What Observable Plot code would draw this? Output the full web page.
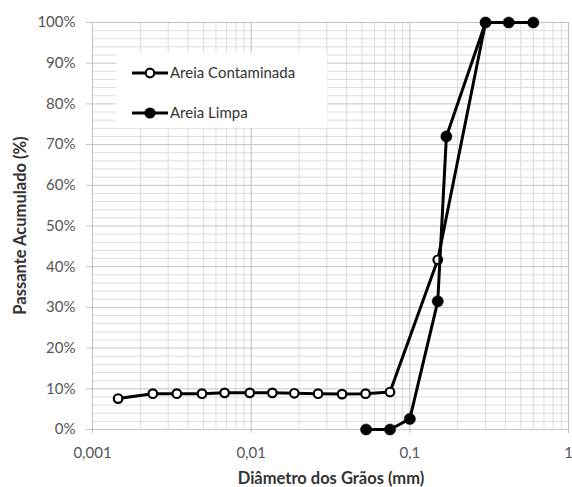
<!DOCTYPE html>
<html><head><meta charset="utf-8">
<script src="https://cdn.jsdelivr.net/npm/d3@7"></script>
<script src="https://cdn.jsdelivr.net/npm/@observablehq/plot@0.6"></script>
<style>
body{margin:0;background:#fff}
#chart svg{font-family:Lato,"Open Sans",sans-serif;background:#fff}
</style>
</head><body><div id="chart"></div>
<script>
// Data
const seriesNames = ["Areia Contaminada", "Areia Limpa"];
const contamDiam = [0.00145, 0.0024, 0.0034, 0.0049, 0.0068, 0.0098, 0.0136, 0.0187, 0.0264, 0.0374, 0.0526, 0.075, 0.15, 0.3];
const contamPass = [7.6, 8.8, 8.8, 8.8, 9.0, 9.0, 9.0, 8.9, 8.8, 8.7, 8.8, 9.2, 41.7, 100];
const limpaDiam = [0.053, 0.075, 0.1, 0.15, 0.17, 0.3, 0.42, 0.6];
const limpaPass = [0, 0, 2.6, 31.5, 72, 100, 100, 100];
const xTicks = [0.001, 0.01, 0.1, 1];
const xTickLabels = ["0,001", "0,01", "0,1", "1"];
const yTicks = [0, 10, 20, 30, 40, 50, 60, 70, 80, 90, 100];
const yTitle = "Passante Acumulado (%)";
const xTitle = "Diâmetro dos Grãos (mm)";

const contam = contamDiam.map((d, i) => ({d, p: contamPass[i]}));
const limpa = limpaDiam.map((d, i) => ({d, p: limpaPass[i]}));
const xMinor = d3.scaleLog().domain([0.001, 1]).ticks().filter(v => !xTicks.some(t => Math.abs(t - v) / t < 1e-9));
const yMinor = d3.range(0, 101, 2).filter(v => v % 10 !== 0);

const W = 572, H = 487, mL = 92, mR = 4, mT = 22, mB = 58;
const FONT = "Lato, 'Open Sans', sans-serif";

const chart = Plot.plot({
  width: W, height: H,
  marginLeft: mL, marginRight: mR, marginTop: mT, marginBottom: mB,
  style: {fontFamily: FONT, fontSize: "15px", background: "#fff"},
  x: {type: "log", domain: [0.001, 1]},
  y: {domain: [0, 100]},
  marks: [
    Plot.ruleY(yMinor, {stroke: "#dcdcdc", strokeWidth: 1}),
    Plot.ruleX(xMinor, {stroke: "#dcdcdc", strokeWidth: 1}),
    Plot.ruleY(yTicks, {stroke: "#c4c4c4", strokeWidth: 1}),
    Plot.ruleX(xTicks, {stroke: "#bdbdbd", strokeWidth: 1}),
    Plot.axisY(yTicks, {tickFormat: d => d + "%", tickSize: 6, tickPadding: 11, stroke: "#c4c4c4", fill: "#555", fontSize: 15, label: null}),
    Plot.axisX(xTicks, {tickFormat: d => xTickLabels[xTicks.indexOf(d)], tickSize: 4, tickPadding: 14, stroke: "#bdbdbd", fill: "#555", fontSize: 15, label: null}),
    Plot.line(contam, {x: "d", y: "p", stroke: "black", strokeWidth: 3}),
    Plot.dot(contam, {x: "d", y: "p", r: 4.3, fill: "white", stroke: "black", strokeWidth: 2.2}),
    Plot.line(limpa, {x: "d", y: "p", stroke: "black", strokeWidth: 3}),
    Plot.dot(limpa, {x: "d", y: "p", r: 5.6, fill: "black", stroke: "black", strokeWidth: 0.5})
  ]
});

const svg = d3.select(chart);
// Axis titles
svg.append("text")
  .attr("transform", `translate(20,${(mT + H - mB) / 2}) rotate(-90)`)
  .attr("text-anchor", "middle").attr("dy", "0.35em")
  .attr("font-family", FONT).attr("font-size", 16.5).attr("font-weight", "bold")
  .attr("fill", "#333").text(yTitle);
svg.append("text")
  .attr("x", 331).attr("y", 478)
  .attr("text-anchor", "middle").attr("dy", "0.35em")
  .attr("font-family", FONT).attr("font-size", 16.5).attr("font-weight", "bold")
  .attr("fill", "#333").text(xTitle);

// Legend
const lg = svg.append("g");
lg.append("rect").attr("x", 116).attr("y", 53).attr("width", 211).attr("height", 75).attr("fill", "white");
seriesNames.forEach((name, i) => {
  const y = 73 + i * 40;
  lg.append("line").attr("x1", 132).attr("x2", 168).attr("y1", y).attr("y2", y).attr("stroke", "black").attr("stroke-width", 3);
  if (i === 0) {
    lg.append("circle").attr("cx", 150).attr("cy", y).attr("r", 4.3).attr("fill", "white").attr("stroke", "black").attr("stroke-width", 2.2);
  } else {
    lg.append("circle").attr("cx", 150).attr("cy", y).attr("r", 5.6).attr("fill", "black");
  }
  lg.append("text").attr("x", 170).attr("y", y).attr("dy", "0.35em").attr("text-anchor", "start")
    .attr("font-family", FONT).attr("font-size", 15).attr("fill", "#333").text(name);
});

document.getElementById("chart").appendChild(chart);
</script>
</body></html>
